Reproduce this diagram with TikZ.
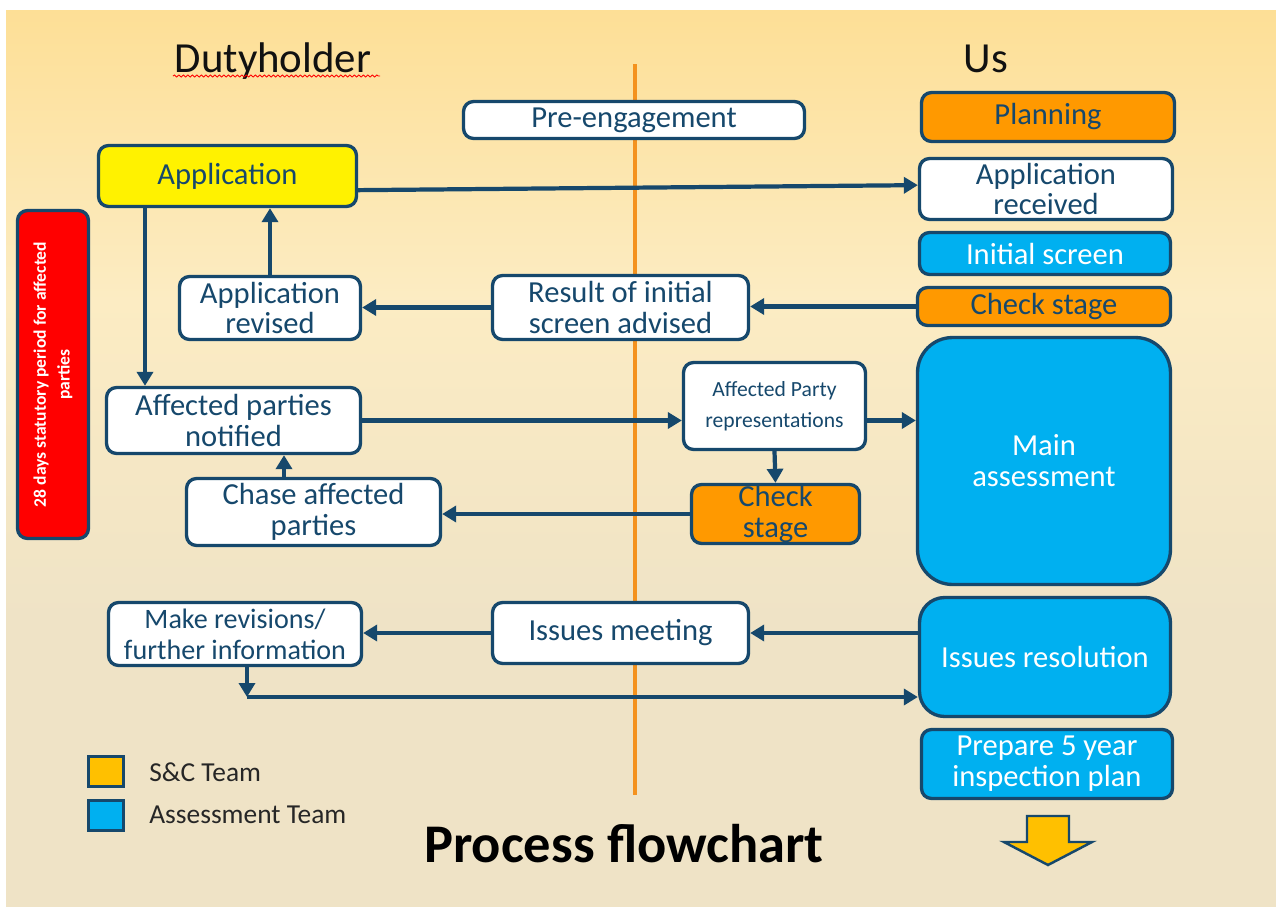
\documentclass[tikz,border=0pt]{standalone}
\usepackage{fontspec}
\setmainfont{Carlito}
\usetikzlibrary{arrows.meta,calc,decorations.pathmorphing}

\definecolor{boxline}{RGB}{22,72,108}
\definecolor{bgtop}{RGB}{253,223,150}
\definecolor{bgmid}{RGB}{252,236,195}
\definecolor{bgbot}{RGB}{239,227,198}
\definecolor{planorange}{RGB}{255,153,0}
\definecolor{teamblue}{RGB}{0,176,240}
\definecolor{teamgold}{RGB}{255,192,0}
\definecolor{laneorange}{RGB}{244,146,30}
\definecolor{headtext}{RGB}{17,17,17}
\definecolor{legendtext}{RGB}{38,38,38}

\tikzset{
  box/.style={draw=boxline, line width=1.9pt, rounded corners=0.2cm, align=center,
    inner sep=0pt, text=boxline, font=\fontsize{17.4}{17.6}\selectfont},
  whitebox/.style={box, fill=white},
  orangebox/.style={box, fill=planorange},
  bluebox/.style={box, fill=teamblue, text=white},
  keybox/.style={draw=boxline, line width=1.9pt, minimum width=0.7cm, minimum height=0.6cm},
  flow/.style={draw=boxline, line width=2.4pt, -{Triangle[length=0.28cm,width=0.32cm]}}
}

\begin{document}
\begin{tikzpicture}[x=0.02cm, y=-0.02cm]
\useasboundingbox (0,0) rectangle (1276,907);
% slide background
\fill[white] (0,0) rectangle (1276,907);
\shade[top color=bgtop, bottom color=bgmid] (6,10) rectangle (1276,300);
\shade[top color=bgmid, bottom color=bgbot] (6,300) rectangle (1276,620);
\fill[bgbot] (6,620) rectangle (1276,907);
\draw[laneorange, line width=2pt] (635,64) -- (635,795);

% headings
\node[anchor=base, text=headtext, font=\fontsize{24.4}{28}\selectfont] (duty) at (273,72) {Dutyholder};
\draw[red, line width=0.5pt, decorate, decoration={snake, amplitude=0.02cm, segment length=0.09cm}] (173,76) -- (380,76);
\node[anchor=base, text=headtext, font=\fontsize{24.4}{28}\selectfont] (us) at (986,72) {Us};

% us column
\node[orangebox, minimum width=5.06cm, minimum height=0.98cm] (plan) at (1048,117) {Planning};
\node[whitebox, minimum width=5.06cm, minimum height=1.22cm] (apprec) at (1046,189) {Application\\received};
\node[bluebox, minimum width=5.02cm, minimum height=0.84cm] (screen) at (1045,253.5) {Initial screen};
\node[orangebox, minimum width=5.06cm, minimum height=0.76cm] (checkA) at (1044,306.5) {Check stage};
\node[bluebox, rounded corners=0.7cm, minimum width=5.06cm, minimum height=4.94cm] (main) at (1044,461) {Main\\assessment};
\node[bluebox, rounded corners=0.5cm, minimum width=5.02cm, minimum height=2.38cm] (issres) at (1045,657) {Issues resolution};
\node[bluebox, minimum width=5.02cm, minimum height=1.38cm] (prep) at (1047,764) {Prepare 5 year\\inspection plan};
\draw[boxline, line width=1.4pt, fill=teamgold] (1027,816) -- (1069,816) -- (1069,842) -- (1092,842) -- (1048,865) -- (1004,842) -- (1027,842) -- cycle;

% middle and dutyholder side
\node[whitebox, minimum width=6.82cm, minimum height=0.74cm] (pre) at (634,120) {Pre-engagement};
\node[box, fill=yellow, minimum width=5.16cm, minimum height=1.22cm] (app) at (227.5,176) {Application};
\node[box, fill=red, text=white, rotate=90, minimum width=6.56cm, minimum height=1.42cm,
  font=\bfseries\fontsize{10}{13.6}\selectfont] (statutory) at (53,374.5) {28 days statutory period for affected\\parties};
\node[whitebox, minimum width=3.62cm, minimum height=1.26cm] (apprev) at (270,308) {Application\\revised};
\node[whitebox, minimum width=5.12cm, minimum height=1.28cm] (result) at (620.5,307.5) {Result of initial\\screen advised};
\node[whitebox, minimum width=5.08cm, minimum height=1.32cm] (notified) at (233.5,420.5) {Affected parties\\notified};
\node[whitebox, minimum width=3.64cm, minimum height=1.74cm, font=\fontsize{12.3}{17.6}\selectfont] (reps) at (774.5,406) {Affected Party\\representations};
\node[whitebox, minimum width=5.08cm, minimum height=1.34cm] (chase) at (313.5,512) {Chase affected\\parties};
\node[orangebox, minimum width=3.36cm, minimum height=1.18cm] (checkB) at (775.5,514) {Check\\stage};
\node[whitebox, minimum width=5.06cm, minimum height=1.26cm, font=\fontsize{16}{17.6}\selectfont] (revisions) at (235,634) {Make revisions/\\further information};
\node[whitebox, minimum width=5.12cm, minimum height=1.22cm] (meeting) at (620.5,633) {Issues meeting};

% connectors
\draw[flow] ($(app.south east)!0.28!(app.north east)$) -- ($(apprec.south west)!0.56!(apprec.north west)$);
\coordinate (split) at (145,0);
\draw[flow] (app.south -| split) -- (notified.north -| split);
\draw[flow] (apprev.north) -- (apprev.north |- app.south);
\draw[flow] (checkA.west) -- (checkA.west -| result.east);
\draw[flow] (result.west) -- (result.west -| apprev.east);
\draw[flow] (notified.east) -- (notified.east -| reps.west);
\draw[flow] (reps.east |- notified.east) -- (notified.east -| main.west);
\draw[flow] (reps.south) -- (checkB.north);
\draw[flow] (checkB.west) -- (checkB.west -| chase.east);
\coordinate (chaseup) at ([xshift=-0.59cm]chase.north);
\draw[flow] (chaseup) -- (chaseup |- notified.south);
\draw[flow] (issres.west |- meeting.east) -- (meeting.east);
\draw[flow] (meeting.west) -- (meeting.west -| revisions.east);
\coordinate (turn) at (247,697);
\draw[flow] (revisions.south -| turn) -- (turn);
\draw[flow] (turn) -- (turn -| issres.west);

% legend and title
\node[keybox, fill=teamgold] (scbox) at (106,771.5) {};
\node[keybox, fill=teamblue] (asbox) at (106,815.5) {};
\node[anchor=west, inner sep=0pt, text=legendtext, font=\fontsize{15.6}{18}\selectfont] (sclabel) at (149,772) {S\&C Team};
\node[anchor=west, inner sep=0pt, text=legendtext, font=\fontsize{15.6}{18}\selectfont] (aslabel) at (149,815) {Assessment Team};
\node[anchor=base, text=black, font=\bfseries\fontsize{31}{36}\selectfont] (title) at (624,862) {Process flowchart};
\end{tikzpicture}
\end{document}
